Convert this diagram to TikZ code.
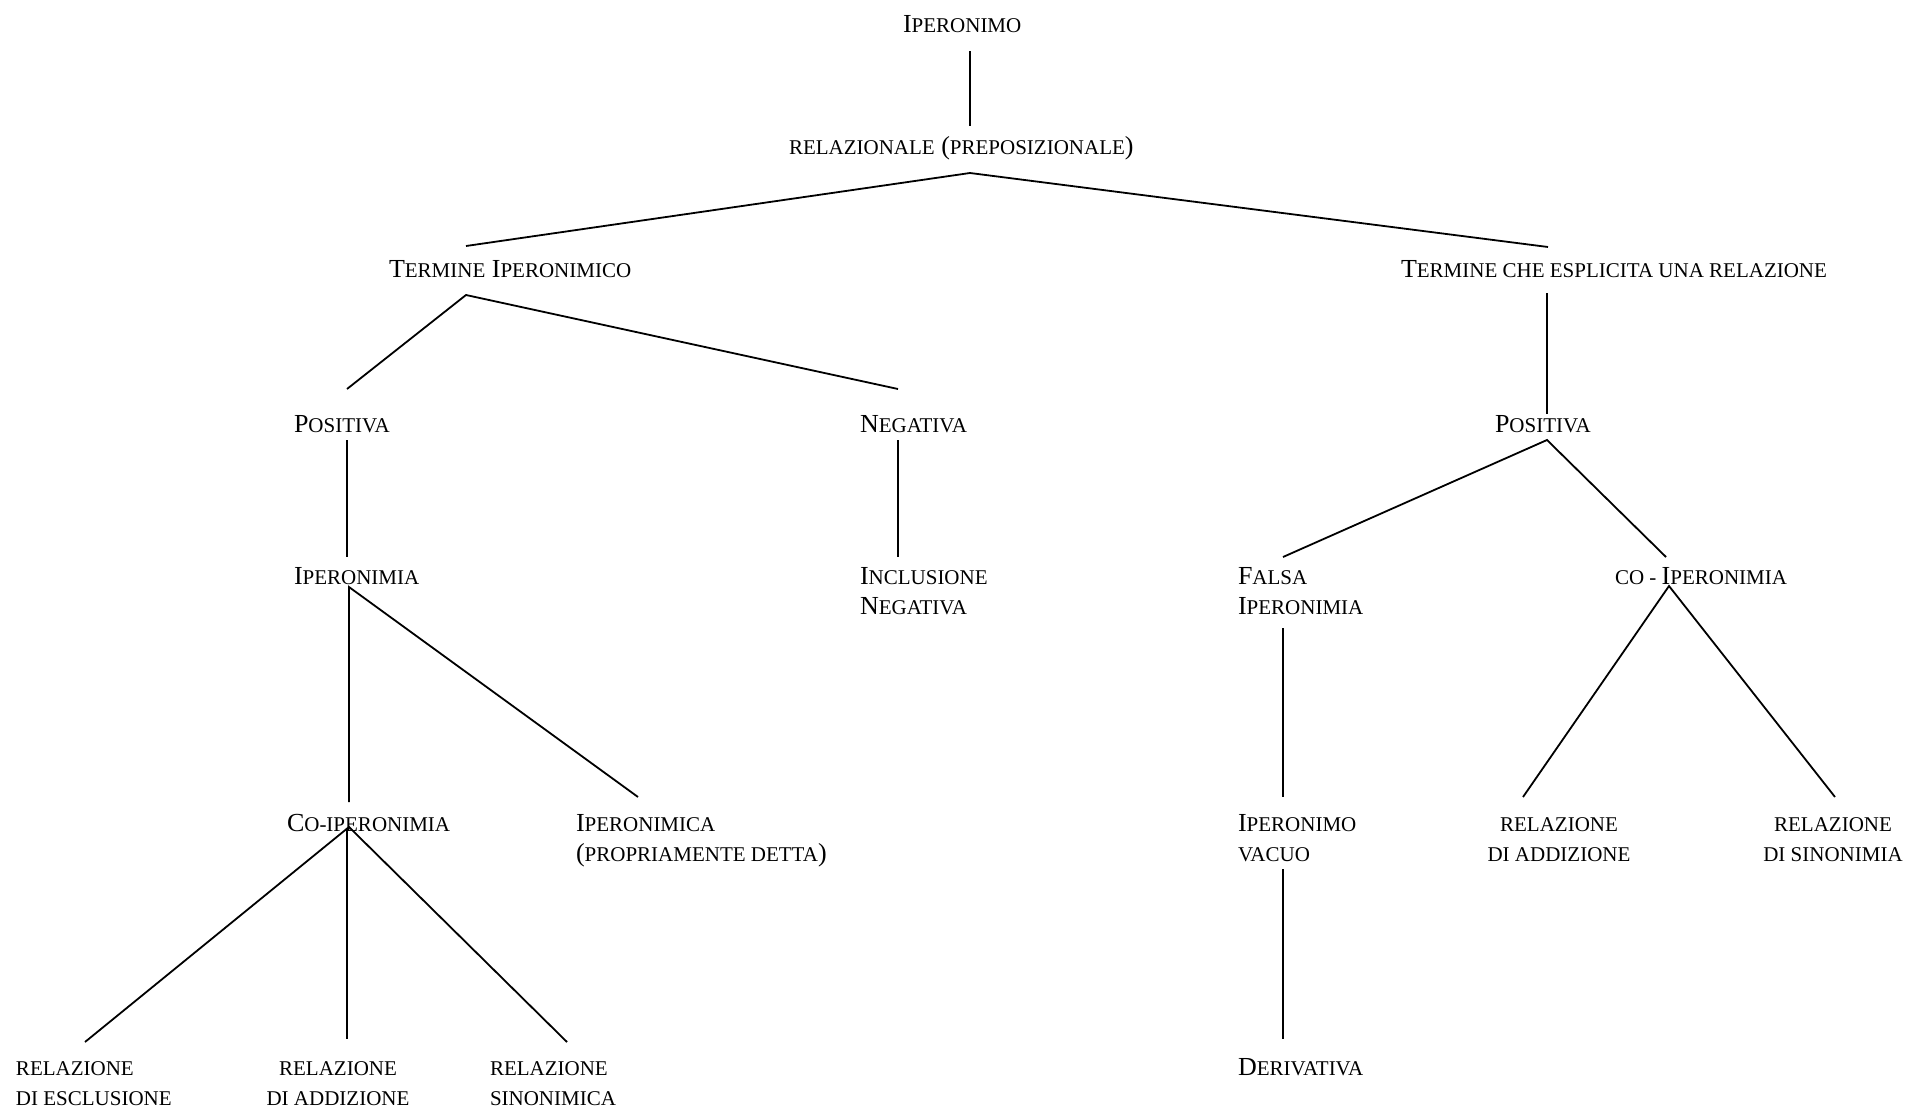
\documentclass[tikz,border=0pt]{standalone}
\usepackage{fontspec}
\setmainfont{Liberation Serif}
% small-capital letters of the labels
\newcommand\Sm[1]{{\fontsize{21}{30}\selectfont #1}}
% two-line labels, first baseline on the node's base
\newcommand\twol[2]{\begin{tabular}[t]{@{}l@{}}#1\\#2\end{tabular}}
\newcommand\twoc[2]{\begin{tabular}[t]{@{}c@{}}#1\\#2\end{tabular}}
\begin{document}
\begin{tikzpicture}[x=1pt,y=-1pt,
  lbl/.style={inner sep=0pt,outer sep=0pt,anchor=base west,font=\fontsize{26}{30}\selectfont},
  lblc/.style={lbl,anchor=base},
  edge/.style={line width=1.8pt,line cap=butt}]
\useasboundingbox (0,0) rectangle (1907,1111);

% labels
\node[lbl] (root)  at (903,32)   {I\Sm{PERONIMO}};
\node[lbl] (rel)   at (789,154)  {\Sm{RELAZIONALE} (\Sm{PREPOSIZIONALE})};
\node[lbl] (tip)   at (389,277)  {T\Sm{ERMINE} I\Sm{PERONIMICO}};
\node[lbl] (tcr)   at (1401,277) {T\Sm{ERMINE CHE ESPLICITA UNA RELAZIONE}};
\node[lbl] (posL)  at (294,432)  {P\Sm{OSITIVA}};
\node[lbl] (neg)   at (860,432)  {N\Sm{EGATIVA}};
\node[lbl] (posR)  at (1495,432) {P\Sm{OSITIVA}};
\node[lbl] (iper)  at (294,584)  {I\Sm{PERONIMIA}};
\node[lbl] (incl)  at (860,584)  {\twol{I\Sm{NCLUSIONE}}{N\Sm{EGATIVA}}};
\node[lbl] (falsa) at (1238,584) {\twol{F\Sm{ALSA}}{I\Sm{PERONIMIA}}};
\node[lbl] (coR)   at (1615,584) {\Sm{CO - }I\Sm{PERONIMIA}};
\node[lbl] (coL)   at (287,831)  {C\Sm{O-IPERONIMIA}};
\node[lbl] (ipca)  at (576,831)  {\twol{I\Sm{PERONIMICA}}{(\Sm{PROPRIAMENTE DETTA})}};
\node[lbl] (vac)   at (1238,831) {\twol{I\Sm{PERONIMO}}{\Sm{VACUO}}};
\node[lblc] (addR) at (1559,831) {\twoc{\Sm{RELAZIONE}}{\Sm{DI ADDIZIONE}}};
\node[lblc] (sinR) at (1833,831) {\twoc{\Sm{RELAZIONE}}{\Sm{DI SINONIMIA}}};
\node[lbl] (escl)  at (16,1075)  {\twol{\Sm{RELAZIONE}}{\Sm{DI ESCLUSIONE}}};
\node[lblc] (addL) at (338,1075) {\twoc{\Sm{RELAZIONE}}{\Sm{DI ADDIZIONE}}};
\node[lbl] (sinL)  at (490,1075) {\twol{\Sm{RELAZIONE}}{\Sm{SINONIMICA}}};
\node[lbl] (deriv) at (1238,1075){D\Sm{ERIVATIVA}};

% branch points and line ends
\coordinate (root-s) at (970,51);
\coordinate (rel-n)  at (970,126);
\coordinate (rel-s)  at (970,173);
\coordinate (tip-n)  at (466,246);
\coordinate (tcr-n)  at (1548,247);
\coordinate (tip-s)  at (466,295);
\coordinate (posL-n) at (347,389);
\coordinate (neg-n)  at (898,389);
\coordinate (tcr-s)  at (1547,293);
\coordinate (posR-n) at (1547,414);
\coordinate (posL-s) at (347,440);
\coordinate (iper-n) at (347,557);
\coordinate (neg-s)  at (898,440);
\coordinate (incl-n) at (898,557);
\coordinate (posR-s) at (1547,440);
\coordinate (falsa-n) at (1283,557);
\coordinate (coR-n)  at (1666,557);
\coordinate (iper-s) at (349,587);
\coordinate (coL-n)  at (349,802);
\coordinate (ipca-n) at (638,797);
\coordinate (falsa-s) at (1283,628);
\coordinate (vac-n)  at (1283,797);
\coordinate (coR-s)  at (1669,586);
\coordinate (addR-n) at (1523,797);
\coordinate (sinR-n) at (1835,797);
\coordinate (coL-s)  at (349,827);
\coordinate (coL-m)  at (347,828);
\coordinate (escl-n) at (85,1042);
\coordinate (addL-n) at (347,1039);
\coordinate (sinL-n) at (567,1042);
\coordinate (vac-s)  at (1283,869);
\coordinate (deriv-n) at (1283,1039);

% connectors
\draw[edge] (root-s) -- (rel-n);
\draw[edge] (tip-n) -- (rel-s) -- (tcr-n);
\draw[edge] (posL-n) -- (tip-s) -- (neg-n);
\draw[edge] (tcr-s) -- (posR-n);
\draw[edge] (posL-s) -- (iper-n);
\draw[edge] (neg-s) -- (incl-n);
\draw[edge] (falsa-n) -- (posR-s) -- (coR-n);
\draw[edge] (coL-n) -- (iper-s) -- (ipca-n);
\draw[edge] (falsa-s) -- (vac-n);
\draw[edge] (addR-n) -- (coR-s) -- (sinR-n);
\draw[edge] (escl-n) -- (coL-s) -- (sinL-n);
\draw[edge] (coL-m) -- (addL-n);
\draw[edge] (vac-s) -- (deriv-n);
\end{tikzpicture}
\end{document}
